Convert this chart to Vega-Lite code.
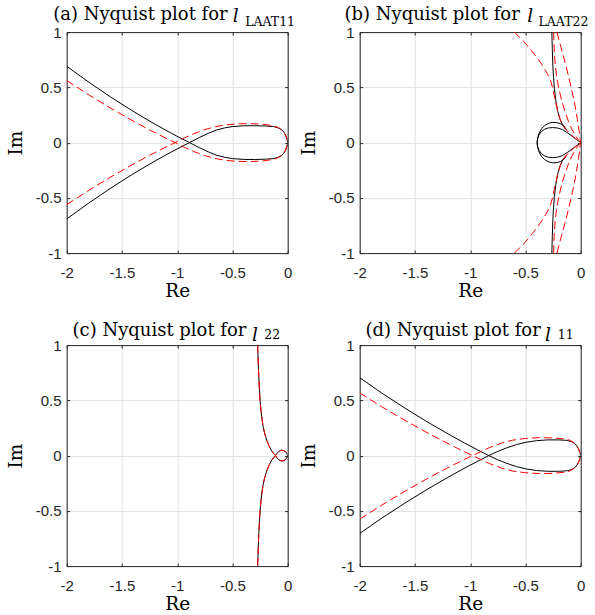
{
  "$schema": "https://vega.github.io/schema/vega-lite/v6.json",
  "padding": {"left": 6.7, "top": 5.1, "right": 0, "bottom": 0},
  "columns": 2,
  "bounds": "flush",
  "spacing": {"row": 92, "column": 72},
  "datasets": {
    "a_solid": [
      {"b":1,"re":-2,"im":0.691},{"b":1,"re":-1.8,"im":0.547},{"b":1,"re":-1.6,"im":0.411},{"b":1,"re":-1.4,"im":0.284},{"b":1,"re":-1.2,"im":0.166},{"b":1,"re":-1.05,"im":0.083},{"b":1,"re":-0.95,"im":0.031},{"b":1,"re":-0.889,"im":0},{"b":1,"re":-0.8,"im":-0.046},{"b":1,"re":-0.72,"im":-0.083},{"b":1,"re":-0.648,"im":-0.113},{"b":1,"re":-0.57,"im":-0.133},{"b":1,"re":-0.5,"im":-0.145},{"b":1,"re":-0.4,"im":-0.152},{"b":1,"re":-0.3,"im":-0.153},{"b":1,"re":-0.2,"im":-0.15},{"b":1,"re":-0.13,"im":-0.145},{"b":1,"re":-0.09,"im":-0.135},{"b":1,"re":-0.06,"im":-0.12},{"b":1,"re":-0.038,"im":-0.1},{"b":1,"re":-0.02,"im":-0.07},{"b":1,"re":-0.008,"im":-0.04},{"b":1,"re":-0.002,"im":-0.015},{"b":1,"re":0,"im":0},
      {"b":2,"re":-2,"im":-0.691},{"b":2,"re":-1.8,"im":-0.547},{"b":2,"re":-1.6,"im":-0.411},{"b":2,"re":-1.4,"im":-0.284},{"b":2,"re":-1.2,"im":-0.166},{"b":2,"re":-1.05,"im":-0.083},{"b":2,"re":-0.95,"im":-0.031},{"b":2,"re":-0.889,"im":0},{"b":2,"re":-0.8,"im":0.046},{"b":2,"re":-0.72,"im":0.083},{"b":2,"re":-0.648,"im":0.113},{"b":2,"re":-0.57,"im":0.133},{"b":2,"re":-0.5,"im":0.145},{"b":2,"re":-0.4,"im":0.152},{"b":2,"re":-0.3,"im":0.153},{"b":2,"re":-0.2,"im":0.15},{"b":2,"re":-0.13,"im":0.145},{"b":2,"re":-0.09,"im":0.135},{"b":2,"re":-0.06,"im":0.12},{"b":2,"re":-0.038,"im":0.1},{"b":2,"re":-0.02,"im":0.07},{"b":2,"re":-0.008,"im":0.04},{"b":2,"re":-0.002,"im":0.015},{"b":2,"re":0,"im":0}
    ],
    "a_dashed": [
      {"b":1,"re":-2,"im":0.562},{"b":1,"re":-1.8,"im":0.432},{"b":1,"re":-1.6,"im":0.31},{"b":1,"re":-1.4,"im":0.196},{"b":1,"re":-1.25,"im":0.115},{"b":1,"re":-1.12,"im":0.049},{"b":1,"re":-1.02,"im":0},{"b":1,"re":-0.93,"im":-0.045},{"b":1,"re":-0.85,"im":-0.08},{"b":1,"re":-0.75,"im":-0.118},{"b":1,"re":-0.65,"im":-0.145},{"b":1,"re":-0.55,"im":-0.162},{"b":1,"re":-0.45,"im":-0.17},{"b":1,"re":-0.35,"im":-0.172},{"b":1,"re":-0.25,"im":-0.168},{"b":1,"re":-0.18,"im":-0.16},{"b":1,"re":-0.12,"im":-0.15},{"b":1,"re":-0.075,"im":-0.13},{"b":1,"re":-0.045,"im":-0.105},{"b":1,"re":-0.025,"im":-0.078},{"b":1,"re":-0.012,"im":-0.048},{"b":1,"re":-0.004,"im":-0.02},{"b":1,"re":0,"im":0},
      {"b":2,"re":-2,"im":-0.562},{"b":2,"re":-1.8,"im":-0.432},{"b":2,"re":-1.6,"im":-0.31},{"b":2,"re":-1.4,"im":-0.196},{"b":2,"re":-1.25,"im":-0.115},{"b":2,"re":-1.12,"im":-0.049},{"b":2,"re":-1.02,"im":0},{"b":2,"re":-0.93,"im":0.045},{"b":2,"re":-0.85,"im":0.08},{"b":2,"re":-0.75,"im":0.118},{"b":2,"re":-0.65,"im":0.145},{"b":2,"re":-0.55,"im":0.162},{"b":2,"re":-0.45,"im":0.17},{"b":2,"re":-0.35,"im":0.172},{"b":2,"re":-0.25,"im":0.168},{"b":2,"re":-0.18,"im":0.16},{"b":2,"re":-0.12,"im":0.15},{"b":2,"re":-0.075,"im":0.13},{"b":2,"re":-0.045,"im":0.105},{"b":2,"re":-0.025,"im":0.078},{"b":2,"re":-0.012,"im":0.048},{"b":2,"re":-0.004,"im":0.02},{"b":2,"re":0,"im":0}
    ],
    "b_solid": [
      {"b":1,"re":-0.261,"im":1.0},{"b":1,"re":-0.257,"im":0.85},{"b":1,"re":-0.252,"im":0.7},{"b":1,"re":-0.246,"im":0.59},{"b":1,"re":-0.238,"im":0.49},{"b":1,"re":-0.225,"im":0.38},{"b":1,"re":-0.207,"im":0.28},{"b":1,"re":-0.185,"im":0.205},{"b":1,"re":-0.162,"im":0.155},{"b":1,"re":-0.14,"im":0.125},{"b":1,"re":-0.13,"im":0.118},{"b":1,"re":-0.15,"im":0.15},{"b":1,"re":-0.18,"im":0.17},{"b":1,"re":-0.215,"im":0.181},{"b":1,"re":-0.252,"im":0.183},{"b":1,"re":-0.29,"im":0.175},{"b":1,"re":-0.325,"im":0.155},{"b":1,"re":-0.355,"im":0.125},{"b":1,"re":-0.377,"im":0.085},{"b":1,"re":-0.39,"im":0.04},{"b":1,"re":-0.394,"im":0},{"b":1,"re":-0.39,"im":-0.035},{"b":1,"re":-0.377,"im":-0.07},{"b":1,"re":-0.355,"im":-0.1},{"b":1,"re":-0.325,"im":-0.122},{"b":1,"re":-0.29,"im":-0.133},{"b":1,"re":-0.252,"im":-0.136},{"b":1,"re":-0.21,"im":-0.132},{"b":1,"re":-0.165,"im":-0.118},{"b":1,"re":-0.116,"im":-0.086},{"b":1,"re":-0.07,"im":-0.052},{"b":1,"re":-0.035,"im":-0.026},{"b":1,"re":-0.01,"im":-0.008},{"b":1,"re":0,"im":0},
      {"b":2,"re":-0.261,"im":-1.0},{"b":2,"re":-0.257,"im":-0.85},{"b":2,"re":-0.252,"im":-0.7},{"b":2,"re":-0.246,"im":-0.59},{"b":2,"re":-0.238,"im":-0.49},{"b":2,"re":-0.225,"im":-0.38},{"b":2,"re":-0.207,"im":-0.28},{"b":2,"re":-0.185,"im":-0.205},{"b":2,"re":-0.162,"im":-0.155},{"b":2,"re":-0.14,"im":-0.125},{"b":2,"re":-0.13,"im":-0.118},{"b":2,"re":-0.15,"im":-0.15},{"b":2,"re":-0.18,"im":-0.17},{"b":2,"re":-0.215,"im":-0.181},{"b":2,"re":-0.252,"im":-0.183},{"b":2,"re":-0.29,"im":-0.175},{"b":2,"re":-0.325,"im":-0.155},{"b":2,"re":-0.355,"im":-0.125},{"b":2,"re":-0.377,"im":-0.085},{"b":2,"re":-0.39,"im":-0.04},{"b":2,"re":-0.394,"im":0},{"b":2,"re":-0.39,"im":0.035},{"b":2,"re":-0.377,"im":0.07},{"b":2,"re":-0.355,"im":0.1},{"b":2,"re":-0.325,"im":0.122},{"b":2,"re":-0.29,"im":0.133},{"b":2,"re":-0.252,"im":0.136},{"b":2,"re":-0.21,"im":0.132},{"b":2,"re":-0.165,"im":0.118},{"b":2,"re":-0.116,"im":0.086},{"b":2,"re":-0.07,"im":0.052},{"b":2,"re":-0.035,"im":0.026},{"b":2,"re":-0.01,"im":0.008},{"b":2,"re":0,"im":0}
    ],
    "b_dashed": [
      {"b":1,"re":-0.6,"im":1.0},{"b":1,"re":-0.5,"im":0.9},{"b":1,"re":-0.42,"im":0.8},{"b":1,"re":-0.36,"im":0.72},{"b":1,"re":-0.31,"im":0.64},{"b":1,"re":-0.275,"im":0.57},{"b":1,"re":-0.255,"im":0.5},{"b":1,"re":-0.24,"im":0.43},{"b":1,"re":-0.225,"im":0.36},{"b":1,"re":-0.207,"im":0.28},{"b":1,"re":-0.185,"im":0.21},{"b":1,"re":-0.162,"im":0.16},{"b":1,"re":-0.135,"im":0.12},{"b":1,"re":-0.1,"im":0.083},{"b":1,"re":-0.065,"im":0.052},{"b":1,"re":-0.03,"im":0.023},{"b":1,"re":0,"im":0},
      {"b":2,"re":-0.6,"im":-1.0},{"b":2,"re":-0.5,"im":-0.9},{"b":2,"re":-0.42,"im":-0.8},{"b":2,"re":-0.36,"im":-0.72},{"b":2,"re":-0.31,"im":-0.64},{"b":2,"re":-0.275,"im":-0.57},{"b":2,"re":-0.255,"im":-0.5},{"b":2,"re":-0.24,"im":-0.43},{"b":2,"re":-0.225,"im":-0.36},{"b":2,"re":-0.207,"im":-0.28},{"b":2,"re":-0.185,"im":-0.21},{"b":2,"re":-0.162,"im":-0.16},{"b":2,"re":-0.135,"im":-0.12},{"b":2,"re":-0.1,"im":-0.083},{"b":2,"re":-0.065,"im":-0.052},{"b":2,"re":-0.03,"im":-0.023},{"b":2,"re":0,"im":0},
      {"b":3,"re":-0.245,"im":1.0},{"b":3,"re":-0.24,"im":0.85},{"b":3,"re":-0.232,"im":0.72},{"b":3,"re":-0.218,"im":0.6},{"b":3,"re":-0.198,"im":0.49},{"b":3,"re":-0.172,"im":0.38},{"b":3,"re":-0.142,"im":0.28},{"b":3,"re":-0.11,"im":0.19},{"b":3,"re":-0.078,"im":0.12},{"b":3,"re":-0.048,"im":0.065},{"b":3,"re":-0.022,"im":0.028},{"b":3,"re":0,"im":0},
      {"b":4,"re":-0.245,"im":-1.0},{"b":4,"re":-0.24,"im":-0.85},{"b":4,"re":-0.232,"im":-0.72},{"b":4,"re":-0.218,"im":-0.6},{"b":4,"re":-0.198,"im":-0.49},{"b":4,"re":-0.172,"im":-0.38},{"b":4,"re":-0.142,"im":-0.28},{"b":4,"re":-0.11,"im":-0.19},{"b":4,"re":-0.078,"im":-0.12},{"b":4,"re":-0.048,"im":-0.065},{"b":4,"re":-0.022,"im":-0.028},{"b":4,"re":0,"im":0},
      {"b":5,"re":-0.215,"im":1.0},{"b":5,"re":-0.178,"im":0.86},{"b":5,"re":-0.14,"im":0.72},{"b":5,"re":-0.105,"im":0.58},{"b":5,"re":-0.075,"im":0.45},{"b":5,"re":-0.05,"im":0.33},{"b":5,"re":-0.03,"im":0.21},{"b":5,"re":-0.015,"im":0.11},{"b":5,"re":-0.005,"im":0.04},{"b":5,"re":0,"im":0},
      {"b":6,"re":-0.215,"im":-1.0},{"b":6,"re":-0.178,"im":-0.86},{"b":6,"re":-0.14,"im":-0.72},{"b":6,"re":-0.105,"im":-0.58},{"b":6,"re":-0.075,"im":-0.45},{"b":6,"re":-0.05,"im":-0.33},{"b":6,"re":-0.03,"im":-0.21},{"b":6,"re":-0.015,"im":-0.11},{"b":6,"re":-0.005,"im":-0.04},{"b":6,"re":0,"im":0}
    ],
    "c_curve": [
      {"b":1,"re":-0.272,"im":1.0},{"b":1,"re":-0.267,"im":0.85},{"b":1,"re":-0.262,"im":0.72},{"b":1,"re":-0.256,"im":0.6},{"b":1,"re":-0.25,"im":0.5},{"b":1,"re":-0.242,"im":0.41},{"b":1,"re":-0.232,"im":0.33},{"b":1,"re":-0.222,"im":0.26},{"b":1,"re":-0.208,"im":0.2},{"b":1,"re":-0.19,"im":0.14},{"b":1,"re":-0.17,"im":0.09},{"b":1,"re":-0.15,"im":0.05},{"b":1,"re":-0.13,"im":0.022},{"b":1,"re":-0.11,"im":0},{"b":1,"re":-0.095,"im":-0.022},{"b":1,"re":-0.08,"im":-0.038},{"b":1,"re":-0.06,"im":-0.048},{"b":1,"re":-0.04,"im":-0.047},{"b":1,"re":-0.022,"im":-0.038},{"b":1,"re":-0.01,"im":-0.024},{"b":1,"re":-0.004,"im":-0.01},{"b":1,"re":-0.002,"im":0},
      {"b":2,"re":-0.272,"im":-1.0},{"b":2,"re":-0.267,"im":-0.85},{"b":2,"re":-0.262,"im":-0.72},{"b":2,"re":-0.256,"im":-0.6},{"b":2,"re":-0.25,"im":-0.5},{"b":2,"re":-0.242,"im":-0.41},{"b":2,"re":-0.232,"im":-0.33},{"b":2,"re":-0.222,"im":-0.26},{"b":2,"re":-0.208,"im":-0.2},{"b":2,"re":-0.19,"im":-0.14},{"b":2,"re":-0.17,"im":-0.09},{"b":2,"re":-0.15,"im":-0.05},{"b":2,"re":-0.13,"im":-0.022},{"b":2,"re":-0.11,"im":0},{"b":2,"re":-0.095,"im":0.022},{"b":2,"re":-0.08,"im":0.038},{"b":2,"re":-0.06,"im":0.048},{"b":2,"re":-0.04,"im":0.047},{"b":2,"re":-0.022,"im":0.038},{"b":2,"re":-0.01,"im":0.024},{"b":2,"re":-0.004,"im":0.01},{"b":2,"re":-0.002,"im":0}
    ],
    "d_solid": [
      {"b":1,"re":-2,"im":0.705},{"b":1,"re":-1.8,"im":0.566},{"b":1,"re":-1.6,"im":0.436},{"b":1,"re":-1.4,"im":0.312},{"b":1,"re":-1.2,"im":0.196},{"b":1,"re":-1.05,"im":0.113},{"b":1,"re":-0.93,"im":0.05},{"b":1,"re":-0.832,"im":0},{"b":1,"re":-0.75,"im":-0.038},{"b":1,"re":-0.675,"im":-0.068},{"b":1,"re":-0.58,"im":-0.1},{"b":1,"re":-0.493,"im":-0.121},{"b":1,"re":-0.4,"im":-0.135},{"b":1,"re":-0.3,"im":-0.142},{"b":1,"re":-0.2,"im":-0.142},{"b":1,"re":-0.13,"im":-0.138},{"b":1,"re":-0.085,"im":-0.128},{"b":1,"re":-0.055,"im":-0.11},{"b":1,"re":-0.033,"im":-0.085},{"b":1,"re":-0.017,"im":-0.055},{"b":1,"re":-0.006,"im":-0.025},{"b":1,"re":0,"im":0},
      {"b":2,"re":-2,"im":-0.705},{"b":2,"re":-1.8,"im":-0.566},{"b":2,"re":-1.6,"im":-0.436},{"b":2,"re":-1.4,"im":-0.312},{"b":2,"re":-1.2,"im":-0.196},{"b":2,"re":-1.05,"im":-0.113},{"b":2,"re":-0.93,"im":-0.05},{"b":2,"re":-0.832,"im":0},{"b":2,"re":-0.75,"im":0.038},{"b":2,"re":-0.675,"im":0.068},{"b":2,"re":-0.58,"im":0.1},{"b":2,"re":-0.493,"im":0.121},{"b":2,"re":-0.4,"im":0.135},{"b":2,"re":-0.3,"im":0.142},{"b":2,"re":-0.2,"im":0.142},{"b":2,"re":-0.13,"im":0.138},{"b":2,"re":-0.085,"im":0.128},{"b":2,"re":-0.055,"im":0.11},{"b":2,"re":-0.033,"im":0.085},{"b":2,"re":-0.017,"im":0.055},{"b":2,"re":-0.006,"im":0.025},{"b":2,"re":0,"im":0}
    ],
    "d_dashed": [
      {"b":1,"re":-2,"im":0.567},{"b":1,"re":-1.8,"im":0.442},{"b":1,"re":-1.6,"im":0.324},{"b":1,"re":-1.4,"im":0.213},{"b":1,"re":-1.28,"im":0.15},{"b":1,"re":-1.15,"im":0.083},{"b":1,"re":-1.05,"im":0.034},{"b":1,"re":-0.978,"im":0},{"b":1,"re":-0.9,"im":-0.038},{"b":1,"re":-0.826,"im":-0.072},{"b":1,"re":-0.72,"im":-0.112},{"b":1,"re":-0.615,"im":-0.14},{"b":1,"re":-0.5,"im":-0.155},{"b":1,"re":-0.372,"im":-0.163},{"b":1,"re":-0.25,"im":-0.16},{"b":1,"re":-0.16,"im":-0.152},{"b":1,"re":-0.1,"im":-0.14},{"b":1,"re":-0.065,"im":-0.12},{"b":1,"re":-0.04,"im":-0.095},{"b":1,"re":-0.022,"im":-0.068},{"b":1,"re":-0.01,"im":-0.04},{"b":1,"re":-0.003,"im":-0.015},{"b":1,"re":0,"im":0},
      {"b":2,"re":-2,"im":-0.575},{"b":2,"re":-1.8,"im":-0.448},{"b":2,"re":-1.6,"im":-0.328},{"b":2,"re":-1.4,"im":-0.215},{"b":2,"re":-1.28,"im":-0.15},{"b":2,"re":-1.15,"im":-0.083},{"b":2,"re":-1.05,"im":-0.034},{"b":2,"re":-0.978,"im":0},{"b":2,"re":-0.9,"im":0.038},{"b":2,"re":-0.826,"im":0.072},{"b":2,"re":-0.72,"im":0.112},{"b":2,"re":-0.615,"im":0.14},{"b":2,"re":-0.5,"im":0.155},{"b":2,"re":-0.372,"im":0.163},{"b":2,"re":-0.25,"im":0.16},{"b":2,"re":-0.16,"im":0.152},{"b":2,"re":-0.1,"im":0.14},{"b":2,"re":-0.065,"im":0.12},{"b":2,"re":-0.04,"im":0.095},{"b":2,"re":-0.022,"im":0.068},{"b":2,"re":-0.01,"im":0.04},{"b":2,"re":-0.003,"im":0.015},{"b":2,"re":0,"im":0}
    ]
  },
  "concat": [
    {
      "width": 221, "height": 221,
      "title": {"text": "l", "dx": 166, "dy": 24.2},
      "resolve": {"axis": {"x": "independent", "y": "independent"}},
      "layer": [
        {
          "data": {"name": "a_solid"},
          "mark": {"type": "line", "color": "#000000", "strokeWidth": 1, "clip": true},
          "encoding": {
            "x": {"field": "re", "type": "quantitative", "scale": {"domain": [-2, 0], "nice": false, "zero": false},
                  "axis": {"orient": "bottom", "values": [-2, -1.5, -1, -0.5, 0], "grid": true, "title": "Re", "titleX": 110.5, "titleY": 43, "labelPadding": 15}},
            "y": {"field": "im", "type": "quantitative", "scale": {"domain": [-1, 1], "nice": false, "zero": false},
                  "axis": {"orient": "left", "values": [-1, -0.5, 0, 0.5, 1], "grid": true, "title": "Im", "titleX": -45, "titleY": 110.5, "titleAngle": -90, "labelPadding": 8.6}},
            "detail": {"field": "b"},
            "order": {"value": null}
          }
        },
        {
          "data": {"name": "a_dashed"},
          "mark": {"type": "line", "color": "#ff0000", "strokeWidth": 1, "strokeDash": [8, 4], "clip": true},
          "encoding": {
            "x": {"field": "re", "type": "quantitative",
                  "axis": {"orient": "top", "values": [-2, -1.5, -1, -0.5, 0], "labels": false, "grid": false, "title": "(a) Nyquist plot for", "titleX": -14, "titleY": -12.6, "titleAlign": "left", "titleFontSize": 18}},
            "y": {"field": "im", "type": "quantitative",
                  "axis": {"orient": "right", "values": [-1, -0.5, 0, 0.5, 1], "labels": false, "grid": false, "title": "LAAT11", "titleX": -43, "titleY": -6.6, "titleAngle": 0, "titleAlign": "left", "titleFontSize": 12.5}},
            "detail": {"field": "b"},
            "order": {"value": null}
          }
        }
      ]
    },
    {
      "width": 221, "height": 221,
      "title": {"text": "l", "dx": 167.6, "dy": 24.2},
      "resolve": {"axis": {"x": "independent", "y": "independent"}},
      "layer": [
        {
          "data": {"name": "b_solid"},
          "mark": {"type": "line", "color": "#000000", "strokeWidth": 1, "clip": true},
          "encoding": {
            "x": {"field": "re", "type": "quantitative", "scale": {"domain": [-2, 0], "nice": false, "zero": false},
                  "axis": {"orient": "bottom", "values": [-2, -1.5, -1, -0.5, 0], "grid": true, "title": "Re", "titleX": 110.5, "titleY": 43, "labelPadding": 15}},
            "y": {"field": "im", "type": "quantitative", "scale": {"domain": [-1, 1], "nice": false, "zero": false},
                  "axis": {"orient": "left", "values": [-1, -0.5, 0, 0.5, 1], "grid": true, "title": "Im", "titleX": -45, "titleY": 110.5, "titleAngle": -90, "labelPadding": 8.6}},
            "detail": {"field": "b"},
            "order": {"value": null}
          }
        },
        {
          "data": {"name": "b_dashed"},
          "mark": {"type": "line", "color": "#ff0000", "strokeWidth": 1, "strokeDash": [8, 4], "clip": true},
          "encoding": {
            "x": {"field": "re", "type": "quantitative",
                  "axis": {"orient": "top", "values": [-2, -1.5, -1, -0.5, 0], "labels": false, "grid": false, "title": "(b) Nyquist plot for", "titleX": -15.7, "titleY": -12.6, "titleAlign": "left", "titleFontSize": 18}},
            "y": {"field": "im", "type": "quantitative",
                  "axis": {"orient": "right", "values": [-1, -0.5, 0, 0.5, 1], "labels": false, "grid": false, "title": "LAAT22", "titleX": -42.7, "titleY": -6.6, "titleAngle": 0, "titleAlign": "left", "titleFontSize": 12.5}},
            "detail": {"field": "b"},
            "order": {"value": null}
          }
        }
      ]
    },
    {
      "width": 221, "height": 221,
      "title": {"text": "l", "dx": 185.4, "dy": 27.2},
      "resolve": {"axis": {"x": "independent", "y": "independent"}},
      "layer": [
        {
          "data": {"name": "c_curve"},
          "mark": {"type": "line", "color": "#000000", "strokeWidth": 1, "clip": true},
          "encoding": {
            "x": {"field": "re", "type": "quantitative", "scale": {"domain": [-2, 0], "nice": false, "zero": false},
                  "axis": {"orient": "bottom", "values": [-2, -1.5, -1, -0.5, 0], "grid": true, "title": "Re", "titleX": 110.5, "titleY": 43, "labelPadding": 15}},
            "y": {"field": "im", "type": "quantitative", "scale": {"domain": [-1, 1], "nice": false, "zero": false},
                  "axis": {"orient": "left", "values": [-1, -0.5, 0, 0.5, 1], "grid": true, "title": "Im", "titleX": -45, "titleY": 110.5, "titleAngle": -90, "labelPadding": 8.6}},
            "detail": {"field": "b"},
            "order": {"value": null}
          }
        },
        {
          "data": {"name": "c_curve"},
          "mark": {"type": "line", "color": "#ff0000", "strokeWidth": 1, "strokeDash": [8, 4], "clip": true},
          "encoding": {
            "x": {"field": "re", "type": "quantitative",
                  "axis": {"orient": "top", "values": [-2, -1.5, -1, -0.5, 0], "labels": false, "grid": false, "title": "(c) Nyquist plot for", "titleX": 5.4, "titleY": -9.4, "titleAlign": "left", "titleFontSize": 18}},
            "y": {"field": "im", "type": "quantitative",
                  "axis": {"orient": "right", "values": [-1, -0.5, 0, 0.5, 1], "labels": false, "grid": false, "title": "22", "titleX": -24, "titleY": -6.6, "titleAngle": 0, "titleAlign": "left", "titleFontSize": 12.5}},
            "detail": {"field": "b"},
            "order": {"value": null}
          }
        }
      ]
    },
    {
      "width": 221, "height": 221,
      "title": {"text": "l", "dx": 185.3, "dy": 27.2},
      "resolve": {"axis": {"x": "independent", "y": "independent"}},
      "layer": [
        {
          "data": {"name": "d_solid"},
          "mark": {"type": "line", "color": "#000000", "strokeWidth": 1, "clip": true},
          "encoding": {
            "x": {"field": "re", "type": "quantitative", "scale": {"domain": [-2, 0], "nice": false, "zero": false},
                  "axis": {"orient": "bottom", "values": [-2, -1.5, -1, -0.5, 0], "grid": true, "title": "Re", "titleX": 110.5, "titleY": 43, "labelPadding": 15}},
            "y": {"field": "im", "type": "quantitative", "scale": {"domain": [-1, 1], "nice": false, "zero": false},
                  "axis": {"orient": "left", "values": [-1, -0.5, 0, 0.5, 1], "grid": true, "title": "Im", "titleX": -45, "titleY": 110.5, "titleAngle": -90, "labelPadding": 8.6}},
            "detail": {"field": "b"},
            "order": {"value": null}
          }
        },
        {
          "data": {"name": "d_dashed"},
          "mark": {"type": "line", "color": "#ff0000", "strokeWidth": 1, "strokeDash": [8, 4], "clip": true},
          "encoding": {
            "x": {"field": "re", "type": "quantitative",
                  "axis": {"orient": "top", "values": [-2, -1.5, -1, -0.5, 0], "labels": false, "grid": false, "title": "(d) Nyquist plot for", "titleX": 5.3, "titleY": -9.4, "titleAlign": "left", "titleFontSize": 18}},
            "y": {"field": "im", "type": "quantitative",
                  "axis": {"orient": "right", "values": [-1, -0.5, 0, 0.5, 1], "labels": false, "grid": false, "title": "11", "titleX": -23.4, "titleY": -6.6, "titleAngle": 0, "titleAlign": "left", "titleFontSize": 12.5}},
            "detail": {"field": "b"},
            "order": {"value": null}
          }
        }
      ]
    }
  ],
  "config": {
    "view": {"stroke": null},
    "axis": {
      "labelFont": "Liberation Sans", "labelFontSize": 15, "labelColor": "#262626",
      "labelExpr": "replace(format(datum.value, '~g'), '\u2212', '-')",
      "labelFlush": false, "labelOverlap": false,
      "titleFont": "DejaVu Serif", "titleFontSize": 18.5, "titleFontWeight": "normal", "titleColor": "#000000",
      "titleBaseline": "alphabetic", "titleLimit": 1000,
      "domainColor": "#262626", "domainWidth": 1,
      "tickColor": "#262626", "tickSize": -3, "tickWidth": 1,
      "gridColor": "#e0e0e0", "gridWidth": 1
    },
    "title": {
      "font": "DejaVu Serif", "fontSize": 18.5, "fontStyle": "italic", "fontWeight": "normal", "color": "#000000",
      "anchor": "start", "frame": "group", "align": "left", "baseline": "alphabetic", "offset": 0
    }
  }
}
